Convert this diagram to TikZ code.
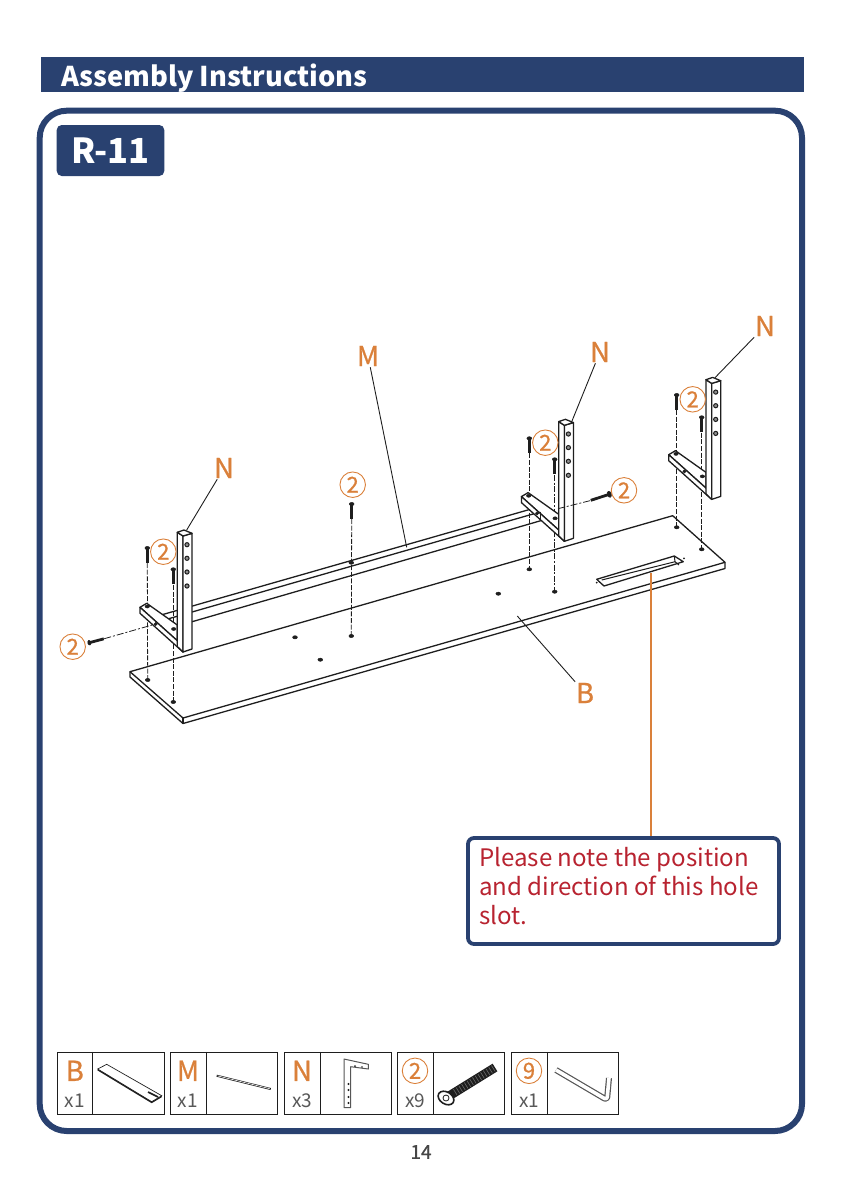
\documentclass[tikz,border=0pt]{standalone}
\usepackage{fontspec}
\setmainfont{Noto Sans CJK SC}
\newfontfamily\medfont[FakeBold=0.8]{Noto Sans CJK SC}
\usepackage{tikz}
\usetikzlibrary{arrows.meta,positioning,calc}
\definecolor{navy}{RGB}{41,65,112}
\definecolor{accent}{RGB}{218,128,58}
\definecolor{notered}{RGB}{184,35,48}
\definecolor{qtygray}{RGB}{88,88,88}
\definecolor{linecol}{RGB}{30,30,30}
\newcommand{\fsz}[1]{\fontsize{#1}{#1}\selectfont}
\tikzset{
  partline/.style ={draw=linecol, line width=1.3pt, line join=round},
  solidface/.style={partline, fill=white},
  guide/.style    ={draw=linecol, line width=.8pt, dash pattern=on 5pt off 1.6pt},
  guideb/.style   ={guide, line width=1.2pt, dash pattern=on 6pt off 1.6pt on 2pt off 1.6pt},
  leader/.style   ={draw=linecol, line width=.9pt},
  hole/.style     ={fill=linecol, draw=linecol, line width=.5pt},
  posthole/.style ={fill=linecol!50, draw=linecol, line width=1pt},
  letter/.style   ={text=accent, font=\medfont\fsz{27.5}, inner sep=1pt},
  marker/.style   ={circle, draw=accent, line width=.9pt, minimum size=25.5pt, inner sep=0pt,
                    text=accent, font=\medfont\fsz{22}},
  qty/.style      ={text=qtygray, font=\fsz{19}, inner sep=0pt},
  partcell/.style ={rectangle, draw=linecol, line width=1pt, minimum width=107pt,
                    minimum height=62pt, inner sep=0pt},
  bracket/.pic={
    % arm first, the post stands in front of it
    \filldraw[solidface] (-43,-44.7) -- (-36.3,-48.7) -- (-5.7,-27) -- (-5.7,-11.3) -- cycle;
    \filldraw[solidface] (-43,-44.7) -- (-43,-38.7) -- (0,0) -- (0,-9) -- (-5.7,-11.3) -- cycle;
    \filldraw[solidface] (-5.7,-119.7) -- (0,-116) -- (0,0) -- (-5.7,-5.5) -- cycle;
    \filldraw[solidface] (0,-116) -- (9,-118.7) -- (9,-3) -- (0,0) -- cycle;
    \filldraw[solidface] (-5.7,-119.7) -- (1,-122) -- (9,-118.7) -- (0,-116) -- cycle;
    \foreach \hy in {-107.3,-93.7,-80,-66}
      \filldraw[posthole] (4,\hy) circle (2.1);
    \filldraw[hole] (-35.7,-45.5) ellipse [x radius=2.2, y radius=1.5];
    \filldraw[hole] (-9.3,-23) ellipse [x radius=2.2, y radius=1.5];
    \filldraw[hole] (-27.3,-28) circle (1.6);
  },
  screw/.pic={
    \draw[linecol, line width=2.8pt] (0,1) -- (0,15);
    \filldraw[hole] (0,0) ellipse [x radius=2.4, y radius=1.6];
  },
}

\begin{document}
\begin{tikzpicture}[x=1pt,y=-1pt]
  \useasboundingbox (0,0) rectangle (842,1191);

  % header and frame
  \fill[navy] (41,57) rectangle (804,91.7);
  \node[anchor=west, text=white, font=\fsz{27.2}\bfseries, inner sep=0pt] (title) at (61,78) {Assembly Instructions};
  \draw[navy, line width=6pt, rounded corners=27pt] (39.7,110.7) rectangle (802,1131);
  \node[rectangle, rounded corners=5pt, fill=navy, text=white, font=\fsz{34.5}\bfseries,
        minimum width=107.6pt, minimum height=51pt, inner sep=0pt] (step) at (110.5,150.5) {R-11};

  % board
  \draw[partline] (130,671.7) -- (672.7,515.7) -- (725,562.3) -- (183,718) -- cycle;
  \draw[partline] (130,671.7) -- (130,677) -- (183,723.5) -- (725,568.5) -- (725,562.3);
  \draw[partline] (183,718) -- (183,723.5);
  \draw[partline] (596.7,579.3) -- (674.3,556) -- (683.3,561.7) -- (604,586) -- cycle;
  \draw[partline, line width=1pt] (601.7,580) -- (675,561.7) -- (674.3,556);
  \draw[partline, line width=1pt] (675,561.7) -- (679,565);
  \foreach \bx/\by in {147.7/680, 173.3/702, 295/637.3, 320.3/659.7, 351.3/636, 498.3/593.7,
                       529.3/569.3, 554.7/591.7, 676.7/527.3, 701.7/549.3}
    \filldraw[hole] (\bx,\by) ellipse [x radius=2.4, y radius=1.6];
  \fill[linecol] (684,558.3) circle (1) (596.7,582.7) circle (1);

  % rail
  \draw[partline] (160,615.3) -- (540,506.5);
  \draw[partline] (160,621.2) -- (540,512);
  \draw[partline] (160,631) -- (540.7,520.7);
  \filldraw[hole] (351.3,562.7) ellipse [x radius=2.4, y radius=1.6];

  % screw guides behind the brackets
  \coordinate (s1) at (147.3,563);
  \coordinate (h1) at (147.7,680);
  \coordinate (s2) at (173.3,585);
  \coordinate (h2) at (173.3,702);
  \coordinate (s3) at (351.7,519);
  \coordinate (h3) at (351.3,636);
  \coordinate (s4) at (529.3,453.3);
  \coordinate (h4) at (529.3,569.3);
  \coordinate (s5) at (554.7,475);
  \coordinate (h5) at (554.7,591.7);
  \coordinate (s6) at (676.7,410);
  \coordinate (h6) at (676.7,527.3);
  \coordinate (s7) at (701.7,432.7);
  \coordinate (h7) at (701.7,549.3);
  \draw[guide] (s1) -- (h1);
  \draw[guide] (s2) -- (h2);
  \draw[guide] (s3) -- (h3);
  \draw[guide] (s4) -- (h4);
  \draw[guideb] (s5) -- (h5);
  \draw[guide] (s6) -- (h6);
  \draw[guide] (s7) -- (h7);

  % brackets
  \pic at (183,652) {bracket};
  \pic at (564.4,541.3) {bracket};
  \pic at (711.7,499.4) {bracket};
  \draw[partline] (540.7,511.7) -- (540.7,520.7);

  % side screws
  \coordinate (s8) at (104.3,638.7);
  \coordinate (h8) at (155.7,624);
  \coordinate (s9) at (590,500.7);
  \coordinate (h9) at (556.7,509);
  \draw[guide, dash pattern=on 7pt off 2pt on 2pt off 2pt] (s8) -- (h8);
  \draw[guide, dash pattern=on 7pt off 2pt on 2pt off 2pt] (s9) -- (h9);
  \pic[rotate=105] at (89.3,642.7) {screw};
  \pic[rotate=-72, scale=1.3] at (609.3,494.3) {screw};

  % upright screws
  \pic at (147.3,548) {screw};
  \pic at (173.3,569.3) {screw};
  \pic at (351.7,504) {screw};
  \pic at (529.3,438.3) {screw};
  \pic at (554.7,459.3) {screw};
  \pic at (676.7,395) {screw};
  \pic at (701.7,417.3) {screw};

  % part letters and leaders
  \node[letter] (nleft) at (224,468) {N};
  \node[letter] (nmid) at (600,352) {N};
  \node[letter] (nright) at (765,326) {N};
  \node[letter] (mrail) at (368,356) {M};
  \node[letter] (bboard) at (585,693) {B};
  \coordinate (nleftend) at (186.7,530);
  \coordinate (nmidend) at (571.7,421.7);
  \coordinate (nrightend) at (715,377.7);
  \coordinate (mrailend) at (406.7,547.3);
  \coordinate (bboardend) at (517.3,616);
  \draw[leader] (nleft) -- (nleftend);
  \draw[leader] (nmid) -- (nmidend);
  \draw[leader] (nright) -- (nrightend);
  \draw[leader] (mrail) -- (mrailend);
  \draw[leader] (bboard) -- (bboardend);

  % screw markers
  \node[marker] (m1) at (72.7,646.7) {2};
  \node[marker] (m2) at (163.3,551.7) {2};
  \node[marker] (m3) at (352.7,484.7) {2};
  \node[marker] (m4) at (545.3,442.7) {2};
  \node[marker] (m5) at (624,490.3) {2};
  \node[marker] (m6) at (692.7,399.3) {2};

  % note
  \node[rectangle, rounded corners=6pt, draw=navy, line width=3.8pt, fill=white,
        minimum width=311pt, minimum height=106pt, inner sep=0pt] (note) at (623.5,891) {};
  \node[anchor=north west, text=notered, font=\fontsize{24.1}{29}\selectfont, align=left, inner sep=0pt] (notetext)
    at (479,847) {Please note the position\\and direction of this hole\\slot.};
  \coordinate (slotpt) at (651,573.3);
  \draw[accent, line width=1.4pt] (slotpt) -- (slotpt |- note.north);

  % parts row
  \foreach \cx/\cid/\ctxt/\cq in {110.8/cb/B/x1, 224/cm/M/x1, 338/cn/N/x3} {
    \node[partcell] (\cid) at (\cx,1083.3) {};
    \draw[linecol, line width=1pt] ($(\cid.north west)+(36,0)$) -- ($(\cid.south west)+(36,0)$);
    \node[letter] (\cid l) at ($(\cid.west)+(18,-12.5)$) {\ctxt};
    \node[qty] (\cid q) at ($(\cid.west)+(18,17)$) {\cq};
  }
  \foreach \cx/\cid/\ctxt/\cq in {451/c2/2/x9, 565/c9/9/x1} {
    \node[partcell] (\cid) at (\cx,1083.3) {};
    \draw[linecol, line width=1pt] ($(\cid.north west)+(36,0)$) -- ($(\cid.south west)+(36,0)$);
    \node[marker] (\cid l) at ($(\cid.west)+(18,-12.5)$) {\ctxt};
    \node[qty] (\cid q) at ($(\cid.west)+(18,17)$) {\cq};
  }
  % part thumbnails
  \draw[linecol, line width=.7pt] (97.7,1069) -- (106.7,1064.3) -- (161.7,1095.7) -- (151.7,1101.7) -- cycle;
  \draw[linecol, line width=1.2pt] (97.7,1069.8) -- (151.7,1102.5) -- (161.7,1096.5);
  \draw[linecol, line width=1.6pt] (148,1092) -- (158,1097);
  \draw[linecol, line width=2pt] (216.7,1075.7) -- (270.7,1089);
  \draw[white, line width=.6pt] (217.7,1075.9) -- (269.7,1088.7);
  \draw[linecol!75, line width=1pt, line join=round, fill=white] (344,1059) -- (368.3,1064.3) -- (368.3,1069) -- (350.7,1066.7)
    -- (350.7,1107.7) -- (344,1107.7) -- cycle;
  \foreach \hy in {1084,1090,1097,1103}
    \fill[linecol] (348.5,\hy) circle (1.1);
  \fill[linecol] (355,1066) circle (1) (362,1067) circle (.9);
  \draw[linecol, line width=9pt] (449,1096) -- (495,1067.5);
  \draw[linecol!65!white, line width=7pt, dash pattern=on .6pt off 2.6pt] (455,1092.3) -- (495,1067.5);
  \filldraw[fill=white, draw=linecol, line width=1.6pt, rotate around={-32:(446,1098)}] (446,1098) ellipse [x radius=8.5, y radius=6];
  \draw[linecol, line width=.8pt] (446,1098) circle (3);
  \draw[linecol!75, line width=6pt, line join=round, rounded corners=3pt] (556,1070) -- (607,1100) -- (609,1078);
  \draw[white, line width=3.6pt, line join=round, rounded corners=3pt] (556,1070) -- (607,1100) -- (609,1078);

  % page number
  \node[text=qtygray!80!black, font=\medfont\fsz{19}, inner sep=0pt] (pageno) at (421,1152) {14};
\end{tikzpicture}
\end{document}
